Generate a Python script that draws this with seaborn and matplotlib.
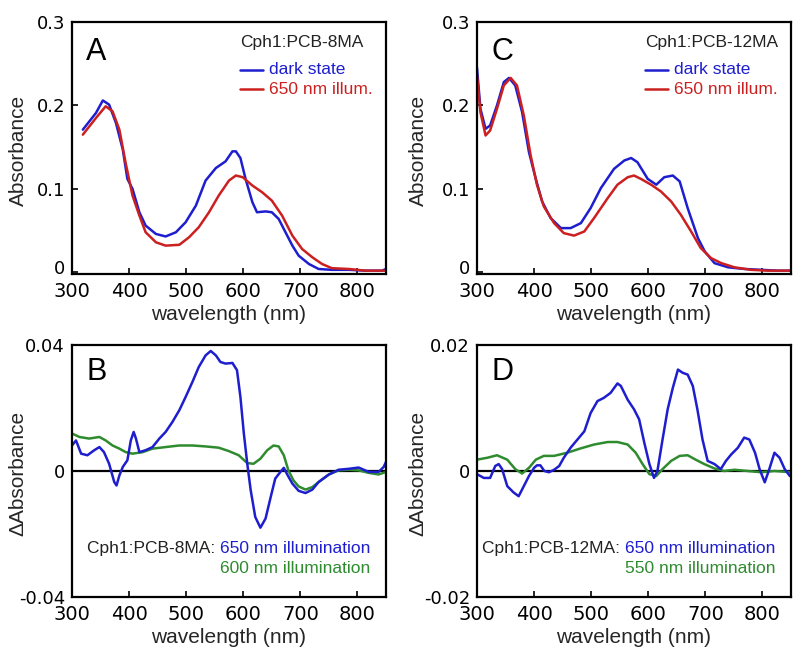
import matplotlib
matplotlib.use("Agg")
import matplotlib.pyplot as plt
import matplotlib.transforms as mtrans
import seaborn as sns
import pandas as pd

# ---------------- data ----------------
# Panel A: Cph1:PCB-8MA absorbance
a_dark_wl = [319, 342, 354, 365, 377, 389, 397, 406, 418, 429, 447, 464, 482, 499, 517, 534, 552, 569,
             581, 587, 595, 604, 616, 624, 639, 650, 662, 674, 686, 697, 715, 732, 755, 785, 814, 843, 850]
a_dark_abs = [0.171, 0.191, 0.206, 0.201, 0.179, 0.147, 0.112, 0.100, 0.072, 0.056, 0.046, 0.043, 0.048,
              0.060, 0.080, 0.110, 0.125, 0.133, 0.145, 0.145, 0.137, 0.112, 0.084, 0.072, 0.073, 0.072,
              0.064, 0.048, 0.032, 0.020, 0.010, 0.004, 0.003, 0.003, 0.002, 0.002, 0.004]
a_ill_wl = [319, 342, 359, 371, 383, 394, 406, 418, 429, 447, 464, 488, 505, 522, 540, 557, 575, 587,
            599, 616, 633, 650, 668, 686, 703, 721, 738, 755, 785, 814, 850]
a_ill_abs = [0.165, 0.185, 0.199, 0.193, 0.171, 0.131, 0.092, 0.068, 0.048, 0.036, 0.032, 0.033, 0.042,
             0.054, 0.072, 0.092, 0.110, 0.116, 0.114, 0.104, 0.096, 0.086, 0.068, 0.044, 0.028, 0.018,
             0.010, 0.005, 0.004, 0.002, 0.002]

# Panel C: Cph1:PCB-12MA absorbance
c_dark_wl = [300, 306, 315, 323, 335, 347, 356, 367, 379, 391, 403, 414, 429, 447, 464, 482, 499, 517,
             540, 558, 570, 581, 599, 614, 628, 643, 655, 669, 687, 699, 716, 740, 769, 798, 828, 851]
c_dark_abs = [0.245, 0.196, 0.172, 0.176, 0.200, 0.228, 0.233, 0.224, 0.192, 0.144, 0.112, 0.085, 0.065,
              0.053, 0.053, 0.059, 0.077, 0.101, 0.124, 0.134, 0.137, 0.132, 0.112, 0.105, 0.114, 0.116,
              0.109, 0.077, 0.041, 0.025, 0.011, 0.006, 0.004, 0.003, 0.002, 0.002]
c_ill_wl = [300, 306, 315, 323, 335, 347, 359, 370, 382, 394, 405, 417, 435, 452, 470, 488, 505, 529,
            546, 564, 575, 587, 605, 622, 640, 657, 675, 692, 710, 728, 751, 780, 810, 851]
c_ill_abs = [0.236, 0.192, 0.164, 0.170, 0.196, 0.224, 0.233, 0.224, 0.188, 0.140, 0.105, 0.079, 0.059,
             0.047, 0.044, 0.049, 0.065, 0.089, 0.105, 0.114, 0.116, 0.112, 0.105, 0.097, 0.085, 0.069,
             0.049, 0.029, 0.017, 0.011, 0.006, 0.003, 0.002, 0.002]

# Panel B: Cph1:PCB-8MA difference spectra
b_650_wl = [300, 307, 316, 327, 339, 348, 356, 365, 374, 378, 383, 389, 397, 403, 408, 412, 418, 429,
            441, 453, 464, 476, 488, 499, 511, 522, 534, 543, 552, 560, 569, 581, 589, 595, 601, 607,
            613, 621, 630, 639, 648, 656, 665, 671, 677, 686, 697, 709, 721, 732, 750, 767, 785, 802,
            820, 837, 846, 850]
b_650_dabs = [0.0081, 0.0097, 0.0055, 0.0050, 0.0066, 0.0076, 0.0060, 0.0023, -0.0035, -0.0046, -0.0014,
              0.0013, 0.0034, 0.0097, 0.0124, 0.0103, 0.0060, 0.0066, 0.0076, 0.0103, 0.0124, 0.0156,
              0.0193, 0.0235, 0.0283, 0.0330, 0.0367, 0.0381, 0.0367, 0.0346, 0.0341, 0.0343, 0.0320,
              0.0235, 0.0119, 0.0023, -0.0061, -0.0146, -0.0180, -0.0151, -0.0083, -0.0024, -0.0003,
              0.0010, -0.0011, -0.0040, -0.0063, -0.0070, -0.0059, -0.0035, -0.0011, 0.0004, 0.0007,
              0.0011, -0.0003, -0.0003, 0.0013, 0.0029]
b_600_wl = [300, 313, 330, 348, 359, 371, 383, 394, 406, 424, 441, 464, 488, 511, 534, 557, 575, 592,
            607, 618, 630, 642, 653, 662, 671, 679, 688, 697, 709, 721, 732, 750, 767, 785, 802, 820,
            837, 850]
b_600_dabs = [0.0119, 0.0108, 0.0103, 0.0108, 0.0097, 0.0081, 0.0071, 0.0060, 0.0055, 0.0060, 0.0071,
              0.0076, 0.0081, 0.0081, 0.0078, 0.0074, 0.0063, 0.0050, 0.0025, 0.0023, 0.0039, 0.0066,
              0.0081, 0.0078, 0.0050, 0.0002, -0.0030, -0.0049, -0.0059, -0.0051, -0.0035, -0.0011,
              0.0002, 0.0004, 0.0002, -0.0006, -0.0011, -0.0003]

# Panel D: Cph1:PCB-12MA difference spectra
d_650_wl = [300, 312, 323, 332, 338, 344, 353, 364, 373, 382, 391, 400, 405, 411, 418, 426, 435, 444,
            452, 464, 476, 488, 499, 511, 522, 534, 546, 552, 564, 575, 584, 593, 602, 610, 616, 625,
            634, 643, 652, 660, 669, 678, 686, 695, 704, 716, 727, 736, 745, 757, 768, 777, 787, 795,
            804, 812, 821, 830, 839, 848, 851]
d_650_dabs = [-0.0005, -0.0011, -0.0011, 0.0008, 0.0011, 0.0003, -0.0024, -0.0034, -0.0040, -0.0024,
              -0.0008, 0.0005, 0.0009, 0.0009, 0.0000, -0.0002, 0.0002, 0.0008, 0.0021, 0.0037, 0.0050,
              0.0063, 0.0092, 0.0111, 0.0116, 0.0124, 0.0139, 0.0135, 0.0113, 0.0098, 0.0082, 0.0045,
              0.0011, -0.0011, 0.0000, 0.0050, 0.0098, 0.0132, 0.0161, 0.0156, 0.0153, 0.0135, 0.0098,
              0.0050, 0.0016, 0.0011, 0.0003, 0.0016, 0.0026, 0.0037, 0.0053, 0.0050, 0.0029, 0.0003,
              -0.0018, 0.0003, 0.0029, 0.0021, 0.0003, -0.0008, -0.0003]
d_550_wl = [300, 318, 335, 353, 367, 379, 391, 403, 417, 435, 458, 482, 505, 529, 546, 564, 578, 590,
            602, 614, 625, 640, 655, 669, 683, 698, 716, 733, 751, 774, 798, 821, 851]
d_550_dabs = [0.0018, 0.0021, 0.0025, 0.0018, 0.0003, -0.0004, 0.0005, 0.0018, 0.0024, 0.0024, 0.0029,
              0.0036, 0.0042, 0.0046, 0.0046, 0.0042, 0.0029, 0.0011, -0.0005, -0.0008, 0.0003, 0.0016,
              0.0024, 0.0025, 0.0018, 0.0011, 0.0004, 0.0000, 0.0002, 0.0000, -0.0002, 0.0000, -0.0002]

x_ticks = [300, 400, 500, 600, 700, 800]
abs_ticks = [0, 0.1, 0.2, 0.3]
abs_tick_labels = ["0", "0.1", "0.2", "0.3"]
b_ticks = [-0.04, 0, 0.04]
b_tick_labels = ["-0.04", "0", "0.04"]
d_ticks = [-0.02, 0, 0.02]
d_tick_labels = ["-0.02", "0", "0.02"]

# ---------------- style ----------------
sns.set_theme(style="white")
plt.rcParams["font.family"] = ["Liberation Sans", "DejaVu Sans"]
plt.rcParams["axes.linewidth"] = 1.6
plt.rcParams["axes.edgecolor"] = "black"

BLUE = "#1e1ecf"
RED = "#cc2020"
GREEN = "#2e8b2e"
XTICKFONT = {"family": ["DejaVu Sans"], "size": 14}
YTICKFONT = {"family": ["DejaVu Sans"], "size": 13}

fig = plt.figure(figsize=(8.0, 6.61), dpi=100)

W = 314 / 800
H = 252 / 661
axA = fig.add_axes([72 / 800, 1 - 274 / 661, W, H])
axC = fig.add_axes([477 / 800, 1 - 274 / 661, W, H])
axB = fig.add_axes([72 / 800, 1 - 597 / 661, W, H])
axD = fig.add_axes([477 / 800, 1 - 597 / 661, W, H])


def line(ax, wl, val, color):
    df = pd.DataFrame({"wl": wl, "v": val})
    sns.lineplot(data=df, x="wl", y="v", ax=ax, color=color, lw=1.8, estimator=None, sort=True)


line(axA, a_dark_wl, a_dark_abs, BLUE)
line(axA, a_ill_wl, a_ill_abs, RED)
line(axC, c_dark_wl, c_dark_abs, BLUE)
line(axC, c_ill_wl, c_ill_abs, RED)

axB.axhline(0, color="black", lw=1.6, zorder=1)
axD.axhline(0, color="black", lw=1.6, zorder=1)
line(axB, b_600_wl, b_600_dabs, GREEN)
line(axB, b_650_wl, b_650_dabs, BLUE)
line(axD, d_550_wl, d_550_dabs, GREEN)
line(axD, d_650_wl, d_650_dabs, BLUE)

for ax in (axA, axB, axC, axD):
    ax.set_xlim(300, 850)
    ax.set_xticks(x_ticks)
    ax.set_xticklabels([str(v) for v in x_ticks], fontdict=XTICKFONT)
    ax.tick_params(direction="in", length=4, width=1.2, colors="black",
                   bottom=True, left=True)
    ax.tick_params(axis="x", pad=6)
    ax.tick_params(axis="y", pad=5)
    ax.set_xlabel("wavelength (nm)", fontsize=15)
    for s in ax.spines.values():
        s.set_visible(True)
        s.set_color("black")

for ax in (axA, axC):
    ax.set_ylim(-0.002, 0.3)
    ax.set_yticks(abs_ticks)
    ax.set_yticklabels(abs_tick_labels, fontdict=YTICKFONT)
    ax.set_ylabel("Absorbance", fontsize=15)
    # the "0" label sits a little above its tick in the reference
    lbl = ax.get_yticklabels()[0]
    lbl.set_transform(lbl.get_transform() + mtrans.ScaledTranslation(0, 5 / 100, fig.dpi_scale_trans))

axB.set_ylim(-0.04, 0.04)
axB.set_yticks(b_ticks)
axB.set_yticklabels(b_tick_labels, fontdict=YTICKFONT)
axD.set_ylim(-0.02, 0.02)
axD.set_yticks(d_ticks)
axD.set_yticklabels(d_tick_labels, fontdict=YTICKFONT)
for ax in (axB, axD):
    ax.set_ylabel("\u0394Absorbance", fontsize=15)

# label placement
for ax, yx in ((axA, -0.169), (axC, -0.185), (axB, -0.172), (axD, -0.188)):
    ax.yaxis.set_label_coords(yx, 0.49)
    ax.yaxis.label.set_rotation_mode("anchor")
    ax.yaxis.label.set_va("center")
    ax.xaxis.set_label_coords(0.5, -0.159)
    ax.xaxis.label.set_va("center")

# panel letters
for ax, letter in ((axA, "A"), (axC, "C"), (axB, "B"), (axD, "D")):
    ax.text(0.045, 0.881 if letter in "AC" else 0.893, letter, transform=ax.transAxes,
            fontsize=22, va="center", ha="left", color="black")

# legends for A and C
for ax, name in ((axA, "Cph1:PCB-8MA"), (axC, "Cph1:PCB-12MA")):
    ax.text(0.535, 0.917, name, transform=ax.transAxes, fontsize=12.5, va="center", ha="left",
            color="#222222")
    for yy, col, lab in ((0.81, BLUE, "dark state"), (0.734, RED, "650 nm illum.")):
        ax.plot([0.535, 0.607], [yy, yy], transform=ax.transAxes, color=col, lw=1.8)
        ax.text(0.627, yy, lab, transform=ax.transAxes, fontsize=12.5, va="center", ha="left",
                color=col)

# annotations for B and D
for ax, name, lab2 in ((axB, "Cph1:PCB-8MA: ", "600 nm illumination"),
                       (axD, "Cph1:PCB-12MA: ", "550 nm illumination")):
    t1 = ax.text(0.95, 0.194, "650 nm illumination", transform=ax.transAxes, fontsize=12.5,
                 va="center", ha="right", color=BLUE)
    ax.annotate(name, xy=(0, 0.5), xycoords=t1, fontsize=12.5, va="center", ha="right",
                color="#222222")
    ax.text(0.95, 0.115, lab2, transform=ax.transAxes, fontsize=12.5, va="center", ha="right",
            color=GREEN)

fig.savefig("out.png", dpi=100)
